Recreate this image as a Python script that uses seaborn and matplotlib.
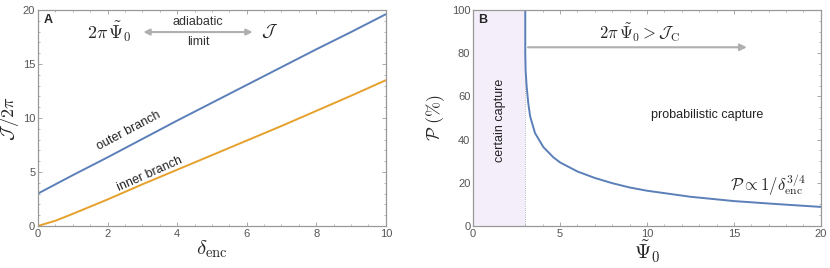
import numpy as np
import pandas as pd
import matplotlib
matplotlib.use("Agg")
import matplotlib.pyplot as plt
from matplotlib.ticker import MultipleLocator
import seaborn as sns

# panel A: action of the two branches vs encounter parameter
delta_enc = [0, 0.5, 1, 2, 3, 4, 5, 6, 7, 8, 9, 10]
outer_branch = [3.0, 3.85, 4.7, 6.35, 8.05, 9.75, 11.4, 13.05, 14.7, 16.35, 17.95, 19.6]
inner_branch = [0.0, 0.48, 1.12, 2.45, 3.85, 5.2, 6.55, 7.9, 9.25, 10.65, 12.05, 13.49]

# panel B: capture probability vs Psi_0
psi0 = [3.0, 3.0, 3.02, 3.08, 3.17, 3.28, 3.56, 4.04, 4.61, 5.0, 6.0, 7.0, 8.0,
        9.0, 10.0, 12.5, 15.0, 17.5, 20.0]
prob = [100, 80, 72, 64.6, 57, 50.7, 43, 36.5, 31.8, 29.4, 25.2, 22.2, 19.8,
        17.8, 16.3, 13.5, 11.5, 10.1, 8.8]

psi_crit = 3.0

sns.set_style("ticks")
plt.rcParams['font.family'] = ['Liberation Sans', 'DejaVu Sans']
plt.rcParams['mathtext.fontset'] = 'cm'

blue = '#5B7FB8'
orange = '#E5A12B'
gray = '#AFAFAF'

fig = plt.figure(figsize=(8.3, 2.68), dpi=100)
axA = fig.add_axes([0.0458, 0.157, 0.419, 0.806])
axB = fig.add_axes([0.570, 0.157, 0.419, 0.806])

dfA = pd.DataFrame({'x': delta_enc, 'outer': outer_branch, 'inner': inner_branch})
sns.lineplot(data=dfA, x='x', y='outer', ax=axA, color=blue, lw=1.4, estimator=None)
sns.lineplot(data=dfA, x='x', y='inner', ax=axA, color=orange, lw=1.4, estimator=None)
axA.set_xlim(0, 10)
axA.set_ylim(0, 20)
axA.xaxis.set_major_locator(MultipleLocator(2))
axA.xaxis.set_minor_locator(MultipleLocator(0.5))
axA.yaxis.set_major_locator(MultipleLocator(5))
axA.yaxis.set_minor_locator(MultipleLocator(1))
axA.set_xlabel(r'$\delta_{\rm enc}$', fontsize=15, labelpad=0)
axA.set_ylabel(r'$\mathcal{J}\,/2\pi$', fontsize=13)
axA.yaxis.set_label_coords(-0.05, 0.5)

axA.text(0.15, 19.1, 'A', fontsize=9, fontweight='bold', va='center')
axA.text(2.05, 17.95, r'$2\pi\,\tilde{\Psi}_0$', fontsize=13, ha='center', va='center')
axA.annotate('', xy=(2.95, 17.95), xytext=(6.25, 17.95),
             arrowprops=dict(arrowstyle='<|-|>', color=gray, lw=1.5, mutation_scale=9))
axA.text(4.6, 18.85, 'adiabatic', fontsize=9, ha='center', va='center', color='#333333')
axA.text(4.6, 17.05, 'limit', fontsize=9, ha='center', va='center', color='#333333')
axA.text(6.65, 17.95, r'$\mathcal{J}$', fontsize=13, ha='center', va='center')
axA.text(2.62, 8.85, 'outer branch', fontsize=9, rotation=28, ha='center', va='center',
         color='#222222')
axA.text(3.2, 4.85, 'inner branch', fontsize=9, rotation=24, ha='center', va='center',
         color='#222222')

dfB = pd.DataFrame({'psi': psi0, 'P': prob})
axB.axvspan(0, psi_crit, color='#F4EEFA', lw=0)
axB.axvline(psi_crit, color='#999999', lw=0.6, ls=':')
sns.lineplot(data=dfB, x='psi', y='P', ax=axB, color=blue, lw=1.4, sort=False,
             estimator=None)
axB.set_xlim(0, 20)
axB.set_ylim(0, 100)
axB.xaxis.set_major_locator(MultipleLocator(5))
axB.xaxis.set_minor_locator(MultipleLocator(1))
axB.yaxis.set_major_locator(MultipleLocator(20))
axB.yaxis.set_minor_locator(MultipleLocator(5))
axB.set_xlabel(r'$\tilde{\Psi}_0$', fontsize=15, labelpad=0)
axB.set_ylabel(r'$\mathcal{P}\ (\%)$', fontsize=13)
axB.yaxis.set_label_coords(-0.075, 0.5)

axB.text(0.3, 95.5, 'B', fontsize=9, fontweight='bold', va='center')
axB.text(9.6, 89.5, r'$2\pi\,\tilde{\Psi}_0 > \mathcal{J}_{\rm C}$', fontsize=12,
         ha='center', va='center')
axB.annotate('', xy=(15.9, 82.7), xytext=(psi_crit, 82.7),
             arrowprops=dict(arrowstyle='-|>', color=gray, lw=1.5, mutation_scale=10))
axB.text(13.45, 51.5, 'probabilistic capture', fontsize=9, ha='center', va='center',
         color='#222222')
axB.text(1.55, 49, 'certain capture', fontsize=9, rotation=90, ha='center', va='center',
         color='#222222')
axB.text(19.1, 18.5, r'$\mathcal{P} \propto 1/\delta_{\rm enc}^{3/4}$', fontsize=12,
         ha='right', va='center')

for ax in (axA, axB):
    for sp in ax.spines.values():
        sp.set_visible(True)
        sp.set_color('#999999')
        sp.set_linewidth(0.9)
    ax.tick_params(which='both', direction='in', top=True, right=True,
                   colors='#999999', labelcolor='#555555', labelsize=8, pad=2)
    ax.tick_params(which='major', length=3, width=0.6)
    ax.tick_params(which='minor', length=1.5, width=0.5)

fig.savefig('out.png', dpi=100)
